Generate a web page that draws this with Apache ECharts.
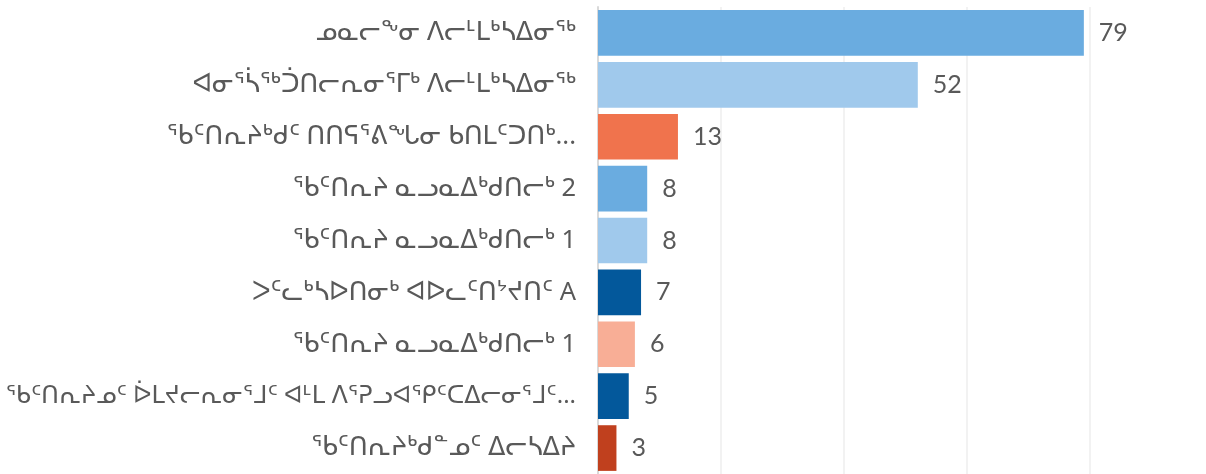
<!DOCTYPE html>
<html>
<head>
<meta charset="utf-8">
<script src="https://cdn.jsdelivr.net/npm/echarts@6/dist/echarts.min.js"></script>
<style>
  html, body { margin: 0; padding: 0; background: #ffffff; }
  #chart { width: 1206px; height: 474px; }
</style>
</head>
<body>
<div id="chart"></div>
<script>
const categories = [
  "ᓄᓇᓕᖕᓂ ᐱᓕᒻᒪᒃᓴᐃᓂᖅ",
  "ᐊᓂᕐᓵᖅᑑᑎᓕᕆᓂᕐᒥᒃ ᐱᓕᒻᒪᒃᓴᐃᓂᖅ",
  "ᖃᑦᑎᕆᔨᒃᑯᑦ ᑎᑎᕋᕐᕕᖓᓂ ᑲᑎᒪᑦᑐᑎᒃ...",
  "ᖃᑦᑎᕆᔨ ᓇᓗᓇᐃᒃᑯᑎᓕᒃ 2",
  "ᖃᑦᑎᕆᔨ ᓇᓗᓇᐃᒃᑯᑎᓕᒃ 1",
  "ᐳᑦᓚᒃᓴᐅᑎᓂᒃ ᐊᐅᓚᑦᑎᔾᔪᑎᑦ A",
  "ᖃᑦᑎᕆᔨ ᓇᓗᓇᐃᒃᑯᑎᓕᒃ 1",
  "ᖃᑦᑎᕆᔨᓄᑦ ᐆᒪᔪᓕᕆᓂᕐᒧᑦ ᐊᒻᒪ ᐱᕐᕈᓗᐊᕿᑦᑕᐃᓕᓂᕐᒧᑦ...",
  "ᖃᑦᑎᕆᔨᒃᑯᓐᓄᑦ ᐃᓕᓴᐃᔨ"
];
const values = [79, 52, 13, 8, 8, 7, 6, 5, 3];
const xTicks = [0, 20, 40, 60, 80];

const barColors = ["#6aace0", "#a0c9ec", "#f0734d", "#6aace0", "#a0c9ec", "#03589b", "#f8ae96", "#03589b", "#c0401e"];

// the longest label needs a slightly smaller size to stay inside the window
const labelSize = (name) => (name.length > 38 ? 24 : 25.5);

const chart = echarts.init(document.getElementById('chart'), null, { renderer: 'canvas' });
chart.setOption({
  animation: false,
  backgroundColor: '#ffffff',
  grid: { left: 598, right: 116, top: 7, height: 473, containLabel: false },
  xAxis: {
    type: 'value',
    min: xTicks[0],
    max: xTicks[xTicks.length - 1],
    interval: 20,
    axisLabel: { show: false },
    axisLine: { show: false },
    axisTick: { show: false },
    splitLine: { show: true, lineStyle: { color: '#eeeeee', width: 1.5 } }
  },
  yAxis: {
    type: 'category',
    inverse: true,
    data: categories.map(c => ({ value: c, textStyle: { fontSize: labelSize(c) } })),
    axisLine: { show: true, lineStyle: { color: '#d9d9d9', width: 2 } },
    axisTick: { show: false },
    axisLabel: {
      margin: 22,
      color: '#595959',
      fontSize: 25.5,
      fontFamily: 'Noto Sans, DejaVu Sans, sans-serif'
    }
  },
  series: [{
    type: 'bar',
    data: values.map((v, i) => ({ value: v, itemStyle: { color: barColors[i] } })),
    barCategoryGap: '12%',
    label: {
      show: true,
      position: 'right',
      distance: 15,
      color: '#595959',
      fontSize: 25,
      fontFamily: 'Lato, Noto Sans, sans-serif'
    }
  }]
});
</script>
</body>
</html>
